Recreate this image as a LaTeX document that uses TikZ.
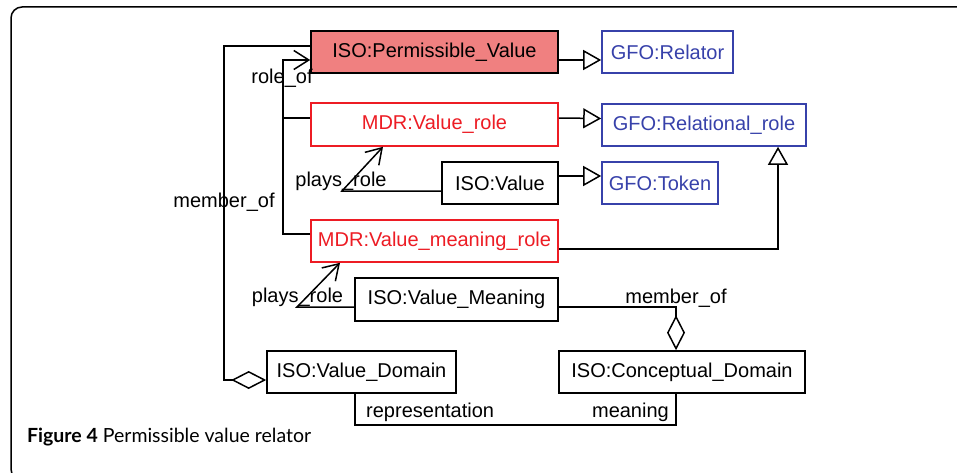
\documentclass[tikz,border=0pt]{standalone}
\usepackage{fontspec}
\setmainfont{Liberation Sans}
\newfontfamily\capfont{Lato}
\usetikzlibrary{arrows.meta}
\definecolor{mdrred}{RGB}{237,28,36}
\definecolor{gfoblue}{RGB}{55,65,170}
\definecolor{pvfill}{RGB}{240,128,128}

\begin{document}
\begin{tikzpicture}[x=1pt, y=-1pt,
	box/.style={draw, line width=1.6pt, fill=white, inner sep=0pt, font=\fontsize{20}{24}\selectfont},
	mdr/.style={box, draw=mdrred, text=mdrred},
	gfo/.style={box, draw=gfoblue, text=gfoblue},
	lbl/.style={inner sep=0pt, anchor=base, font=\fontsize{20}{24}\selectfont},
	conn/.style={line width=1.5pt},
	gen/.style={conn, -{Triangle[open, length=18pt, width=20pt]}},
	assoc/.style={conn, -{Straight Barb[length=15pt, width=19pt]}},
	aggr/.style={conn, {Diamond[open, length=35pt, width=18pt]}-}]
	\useasboundingbox (0,0) rectangle (957,473);
	\clip (0,0) rectangle (957,473);
	\draw [line width=1.5pt, rounded corners=11pt] (975,7) -- (11,7) -- (11,480) -- (975,480);

	\node [box, fill=pvfill, minimum width=247pt, minimum height=42pt] (pv) at (434.5,52) {ISO:Permissible\_Value};
	\node [gfo, minimum width=131pt, minimum height=42pt] (rel) at (667.5,52) {GFO:Relator};
	\node [mdr, minimum width=247pt, minimum height=43pt] (vr) at (434.5,124.5) {MDR:Value\_role};
	\node [gfo, minimum width=204pt, minimum height=42pt] (rr) at (704,125) {GFO:Relational\_role};
	\node [box, minimum width=116pt, minimum height=42pt] (val) at (500,183) {ISO:Value};
	\node [gfo, minimum width=116pt, minimum height=42pt] (tok) at (660,183) {GFO:Token};
	\node [mdr, minimum width=247pt, minimum height=42pt] (vmr) at (434.5,241) {MDR:Value\_meaning\_role};
	\node [box, minimum width=203pt, minimum height=43pt] (vm) at (456.5,299.5) {ISO:Value\_Meaning};
	\node [box, minimum width=189pt, minimum height=42pt] (vd) at (361.5,372) {ISO:Value\_Domain};
	\node [box, minimum width=246pt, minimum height=42pt] (cd) at (682,372) {ISO:Conceptual\_Domain};

	\coordinate (mo) at (224,46);
	\coordinate (ro) at (283,60);
	\coordinate (pu) at (342,191);
	\coordinate (pl) at (297,307);

	\draw [gen] ([yshift=-8pt]pv.east) -- ([yshift=-8pt]rel.west);
	\draw [gen] ([yshift=6.5pt]vr.east) -- ([yshift=6.5pt]rr.west);
	\draw [gen] ([yshift=7pt]val.east) -- ([yshift=7pt]tok.west);
	\draw [gen] ([yshift=-8pt]vmr.east) -| ([xshift=74pt]rr.south);

	\draw [aggr] ([yshift=-8pt]vd.west) -| (mo) -- ([yshift=6pt]pv.west);
	\draw [assoc] ([yshift=7pt]vmr.west) -| (ro) -- ([yshift=-8pt]pv.west);
	\draw [conn] ([yshift=6.5pt]vr.west) -- ++(-28,0);
	\draw [assoc] ([yshift=-8pt]val.west) -- (pu) -- ([xshift=-51.5pt]vr.south);
	\draw [assoc] ([yshift=-7.5pt]vm.west) -- (pl) -- ([xshift=-94.5pt]vmr.south);
	\draw [aggr] ([xshift=-6pt]cd.north) |- ([yshift=-7.5pt]vm.east);
	\draw [conn] ([xshift=-6.5pt]vd.south) -- ++(0,31) -| ([xshift=-6pt]cd.south);

	\node [lbl] (roleof) at (282,84) {role\_of};
	\node [lbl] (memberof) at (224,207) {member\_of};
	\node [lbl] (playsup) at (341,186) {plays\_role};
	\node [lbl] (playslow) at (297.5,302) {plays\_role};
	\node [lbl] (membercd) at (676,303) {member\_of};
	\node [lbl, anchor=base west] (repr) at (366,417) {representation};
	\node [lbl, anchor=base east] (mean) at (669,417) {meaning};

	\node [anchor=base west, inner sep=0pt, font=\capfont\fontsize{19.5}{23}\selectfont] (cap) at (27,442) {\textbf{Figure 4} Permissible value relator};
\end{tikzpicture}
\end{document}
